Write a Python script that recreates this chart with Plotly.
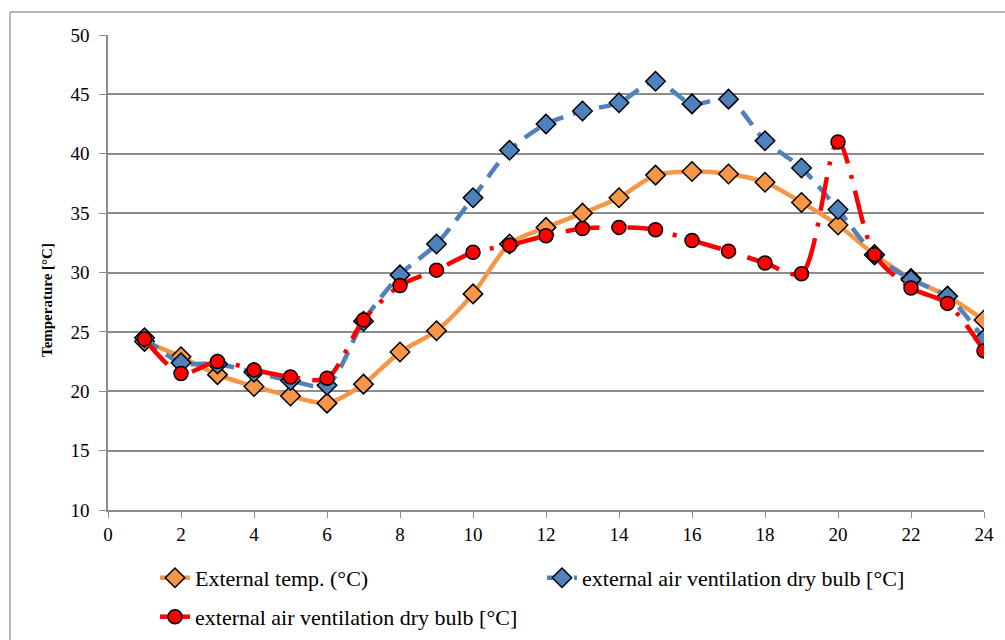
import plotly.graph_objects as go

hours = list(range(1, 25))
external_temp = [24.2, 22.9, 21.4, 20.4, 19.6, 19.0, 20.6, 23.3, 25.1, 28.2, 32.4, 33.8,
                 35.0, 36.3, 38.2, 38.5, 38.3, 37.6, 35.9, 34.0, 31.5, 29.5, 28.0, 26.0]
vent_blue = [24.5, 22.4, 22.3, 21.6, 20.9, 20.5, 25.9, 29.8, 32.4, 36.3, 40.3, 42.5,
             43.6, 44.3, 46.1, 44.2, 44.6, 41.1, 38.8, 35.3, 31.5, 29.4, 28.0, 24.4]
vent_red = [24.4, 21.5, 22.5, 21.8, 21.2, 21.1, 26.0, 28.9, 30.2, 31.7, 32.3, 33.1,
            33.7, 33.8, 33.6, 32.7, 31.8, 30.8, 29.9, 41.0, 31.5, 28.7, 27.4, 23.4]

names = ["External temp. (°C)",
         "external air ventilation dry bulb [°C]",
         "external air ventilation dry bulb [°C]"]
y_title = "Temperature [°C]"

FONT = "Liberation Serif"
GRID = "#8c8c8c"

fig = go.Figure()
fig.add_trace(go.Scatter(
    x=hours, y=external_temp, name=names[0], mode="lines+markers",
    line=dict(color="#F79646", width=4.5, shape="spline", smoothing=0.8),
    marker=dict(symbol="diamond", size=15, color="#F79646", line=dict(color="black", width=1.5)),
    legend="legend"))
fig.add_trace(go.Scatter(
    x=hours, y=vent_blue, name=names[1], mode="lines+markers",
    line=dict(color="#4F81BD", width=4.5, shape="spline", smoothing=0.8, dash="17px,10px"),
    marker=dict(symbol="diamond", size=15, color="#4F81BD", line=dict(color="black", width=1.5)),
    legend="legend"))
fig.add_trace(go.Scatter(
    x=hours, y=vent_red, name=names[2], mode="lines+markers",
    line=dict(color="#FF0000", width=4.5, shape="spline", smoothing=0.8, dash="34px,12px,4px,12px"),
    marker=dict(symbol="circle", size=14, color="#FF0000", line=dict(color="black", width=1.5)),
    legend="legend2"))

fig.update_layout(
    width=1005, height=640,
    margin=dict(l=108, r=21, t=35, b=130, autoexpand=False),
    paper_bgcolor="white", plot_bgcolor="white",
    font=dict(family=FONT, size=19, color="black"),
    xaxis=dict(range=[0, 24], tickmode="array", tickvals=list(range(0, 25, 2)),
               showgrid=False, showline=True, linecolor=GRID, linewidth=1.5,
               ticks="outside", ticklen=6, tickcolor=GRID, zeroline=False,
               tickfont=dict(family=FONT, size=19)),
    yaxis=dict(range=[10, 50], tickmode="array", tickvals=list(range(10, 51, 5)),
               showgrid=True, gridcolor=GRID, gridwidth=1.5,
               showline=True, linecolor=GRID, linewidth=1.5,
               ticks="outside", ticklen=7, tickcolor=GRID, zeroline=False,
               ticklabelstandoff=6,
               tickfont=dict(family=FONT, size=19)),
    legend=dict(orientation="h", x=(155 - 108) / 876, xanchor="left", y=-0.143, yanchor="middle",
                entrywidth=342, entrywidthmode="pixels", bgcolor="rgba(0,0,0,0)",
                font=dict(family=FONT, size=22)),
    legend2=dict(orientation="h", x=(155 - 108) / 876, xanchor="left", y=-0.225, yanchor="middle",
                 bgcolor="rgba(0,0,0,0)", font=dict(family=FONT, size=22)),
    showlegend=True,
    annotations=[dict(text="<b>" + y_title + "</b>", textangle=-90, xref="paper", yref="paper",
                      x=(47 - 108) / 876, y=(510 - 300) / 475, xanchor="center", yanchor="middle",
                      showarrow=False, font=dict(family=FONT, size=15))],
    shapes=[
        dict(type="line", xref="paper", yref="paper", x0=(10 - 108) / 876, x1=(10 - 108) / 876,
             y0=(510 - 12) / 475, y1=(510 - 660) / 475, line=dict(color="#a0a0a0", width=1.5)),
        dict(type="line", xref="paper", yref="paper", x0=(10 - 108) / 876, x1=(1020 - 108) / 876,
             y0=(510 - 12) / 475, y1=(510 - 12) / 475, line=dict(color="#a0a0a0", width=1.5)),
    ],
)

fig.write_html("out.html")
